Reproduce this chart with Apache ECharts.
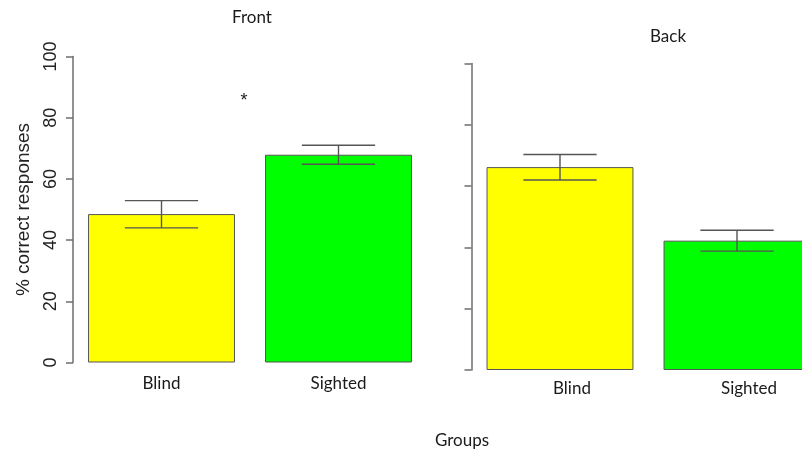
<!DOCTYPE html>
<html>
<head>
<meta charset="utf-8">
<script src="https://cdn.jsdelivr.net/npm/echarts@6/dist/echarts.min.js"></script>
<style>html,body{margin:0;padding:0;background:#fff}#c{width:802px;height:452px}</style>
</head>
<body>
<div id="c"></div>
<script>
const categories = ['Blind', 'Sighted'];
const frontValues = [48.5, 67.9];
const frontLow = [44.0, 64.8];
const frontHigh = [52.9, 71.0];
const backValues = [66.2, 42.2];
const backLow = [62.0, 38.8];
const backHigh = [70.3, 45.6];
const barColors = ['#FFFF00', '#00FF00'];
const yTicks = [0, 20, 40, 60, 80, 100];

const chart = echarts.init(document.getElementById('c'), null, {renderer: 'canvas'});
const calibriLike = 'Lato, "Open Sans", sans-serif';
const arialLike = '"Liberation Sans", Arial, sans-serif';
const axisGray = '#6e6e6e';

function errSeries(idx, lo, hi) {
  return {
    type: 'custom', xAxisIndex: idx, yAxisIndex: idx, z: 5, clip: false,
    data: categories.map((c, i) => [i, lo[i], hi[i]]),
    renderItem: function (params, api) {
      const x = api.value(0);
      const pLo = api.coord([x, api.value(1)]);
      const pHi = api.coord([x, api.value(2)]);
      const half = api.size([1, 0])[0] * 0.207;
      const st = {stroke: '#555', lineWidth: 1.4};
      return {type: 'group', children: [
        {type: 'line', shape: {x1: pLo[0], y1: pLo[1], x2: pHi[0], y2: pHi[1]}, style: st},
        {type: 'line', shape: {x1: pLo[0] - half, y1: pLo[1], x2: pLo[0] + half, y2: pLo[1]}, style: st},
        {type: 'line', shape: {x1: pHi[0] - half, y1: pHi[1], x2: pHi[0] + half, y2: pHi[1]}, style: st}
      ]};
    }
  };
}

function barSeries(idx, vals) {
  return {
    type: 'bar', xAxisIndex: idx, yAxisIndex: idx, barCategoryGap: '17%',
    data: vals.map((v, i) => ({value: v, itemStyle: {color: barColors[i]}})),
    itemStyle: {borderColor: '#555', borderWidth: 1},
    silent: true
  };
}

const yCommon = {
  type: 'value', min: yTicks[0], max: yTicks[yTicks.length - 1], interval: 20,
  splitLine: {show: false},
  axisLine: {show: true, lineStyle: {color: axisGray, width: 1.5}},
  axisTick: {show: true, length: 7, lineStyle: {color: axisGray, width: 1.5}}
};

chart.setOption({
  animation: false,
  backgroundColor: '#fff',
  grid: [
    {left: 73, width: 354, top: 56.5, height: 306, outerBoundsMode: 'none', containLabel: false},
    {left: 471.5, width: 354, top: 63.5, height: 306.5, outerBoundsMode: 'none', containLabel: false}
  ],
  xAxis: [
    {type: 'category', gridIndex: 0, data: categories, axisLine: {show: false}, axisTick: {show: false},
     axisLabel: {margin: 13, fontFamily: calibriLike, fontSize: 17, color: '#1a1a1a'}},
    {type: 'category', gridIndex: 1, data: categories, axisLine: {show: false}, axisTick: {show: false},
     axisLabel: {margin: 10, padding: [0, 0, 0, 24], fontFamily: calibriLike, fontSize: 17, color: '#1a1a1a'}}
  ],
  yAxis: [
    Object.assign({}, yCommon, {gridIndex: 0,
      name: '% correct responses', nameLocation: 'middle', nameGap: 40, nameRotate: 90,
      nameTextStyle: {fontFamily: arialLike, fontSize: 19, color: '#222'},
      axisLabel: {show: true, rotate: 90, margin: 13, fontFamily: arialLike, fontSize: 18, color: '#222'}}),
    Object.assign({}, yCommon, {gridIndex: 1, axisLabel: {show: false}})
  ],
  series: [
    barSeries(0, frontValues), errSeries(0, frontLow, frontHigh),
    barSeries(1, backValues), errSeries(1, backLow, backHigh)
  ],
  graphic: [
    {type: 'text', x: 252, y: 18, style: {text: 'Front', fontFamily: calibriLike, fontSize: 17, fill: '#1a1a1a', textAlign: 'center', textVerticalAlign: 'middle'}},
    {type: 'text', x: 668, y: 37, style: {text: 'Back', fontFamily: calibriLike, fontSize: 17, fill: '#1a1a1a', textAlign: 'center', textVerticalAlign: 'middle'}},
    {type: 'text', x: 462, y: 441, style: {text: 'Groups', fontFamily: calibriLike, fontSize: 17, fill: '#1a1a1a', textAlign: 'center', textVerticalAlign: 'middle'}},
    {type: 'text', x: 244, y: 101, style: {text: '*', fontFamily: arialLike, fontSize: 18, fill: '#222', textAlign: 'center', textVerticalAlign: 'middle'}}
  ]
});
</script>
</body>
</html>
